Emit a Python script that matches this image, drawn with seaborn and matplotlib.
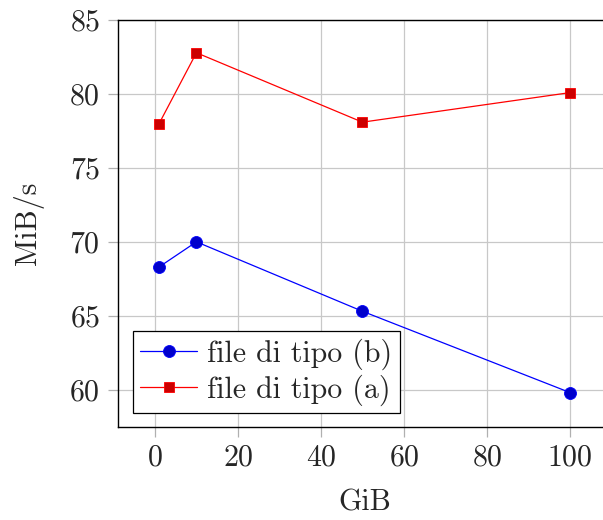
import matplotlib
matplotlib.use("Agg")
import matplotlib.pyplot as plt
import seaborn as sns
import pandas as pd

gib = [1, 10, 50, 100]
tipo_b = [68.3, 70.0, 65.3, 59.8]
tipo_a = [78.0, 82.8, 78.1, 80.1]
label_b = "file di tipo (b)"
label_a = "file di tipo (a)"
xticks = [0, 20, 40, 60, 80, 100]
yticks = [60, 65, 70, 75, 80, 85]

sns.set_theme(style="whitegrid")
plt.rcParams["font.family"] = ["cmr10", "DejaVu Serif"]
plt.rcParams["mathtext.fontset"] = "cm"
plt.rcParams["axes.formatter.use_mathtext"] = True
plt.rcParams["axes.unicode_minus"] = False

FS = 21.5

fig = plt.figure(figsize=(6.03, 5.20), dpi=100)
ax = fig.add_axes([118/603, 1 - 426.5/520, (611-118)/603, (426.5-19.5)/520])

df_b = pd.DataFrame({"GiB": gib, "MiB/s": tipo_b})
df_a = pd.DataFrame({"GiB": gib, "MiB/s": tipo_a})

sns.lineplot(data=df_b, x="GiB", y="MiB/s", ax=ax, color="#0000ff", lw=0.9,
             marker="o", markersize=8.6, markerfacecolor="#0000cc",
             markeredgecolor="#0000ff", markeredgewidth=0.6, label=label_b)
sns.lineplot(data=df_a, x="GiB", y="MiB/s", ax=ax, color="#ff0000", lw=0.9,
             marker="s", markersize=7.8, markerfacecolor="#cc0000",
             markeredgecolor="#ff0000", markeredgewidth=0.6, label=label_a)

ax.set_xlim(-8.9, 109.9)
ax.set_ylim(57.5, 85.05)
ax.set_xticks(xticks)
ax.set_yticks(yticks)
ax.set_facecolor("white")
ax.grid(True, color="#c8c8c8", lw=0.9)
for s in ax.spines.values():
    s.set_color("black")
    s.set_linewidth(1.0)
ax.tick_params(axis="both", which="major", labelsize=FS, length=7,
               width=0.9, color="#b0b0b0", pad=6, direction="out",
               left=True, bottom=True)
ax.set_xlabel("GiB", fontsize=FS, labelpad=12)
ax.set_ylabel("MiB/s", fontsize=FS, labelpad=18)

leg = ax.legend(loc="lower left", bbox_to_anchor=(0.03, 0.033),
                borderaxespad=0, fontsize=FS, frameon=True, fancybox=False,
                framealpha=1, edgecolor="black", handlelength=1.9,
                handletextpad=0.35, borderpad=0.25, labelspacing=0.15)
leg.get_frame().set_linewidth(0.9)

fig.savefig("out.png", dpi=100)
